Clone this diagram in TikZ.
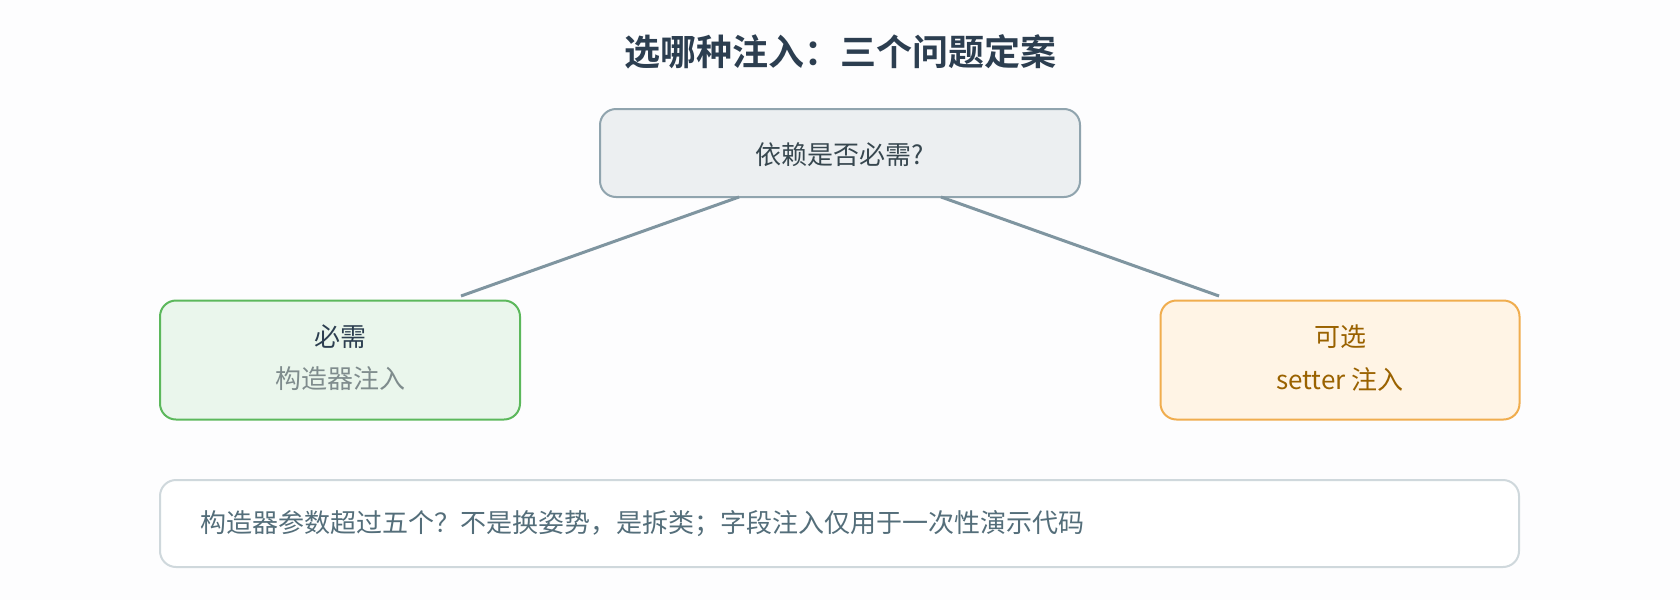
\documentclass[tikz,border=0pt]{standalone}
\usepackage{fontspec}
\setmainfont{Noto Sans CJK SC}
\newfontfamily\cjkbold{Noto Sans CJK SC Bold}
\begin{document}
\begin{tikzpicture}[x=1pt,y=-1pt,
  box/.style={draw, rounded corners=16pt, line width=2pt, inner sep=0pt, anchor=center},
  link/.style={draw=linkc, line width=3pt},
  txt/.style={font=\fontsize{26}{42}\selectfont, inner sep=0pt, align=center}
]
\definecolor{bgc}{HTML}{FDFDFE}
\definecolor{titlec}{HTML}{2C3E50}
\definecolor{qfill}{HTML}{ECEFF1}
\definecolor{qdraw}{HTML}{90A4AE}
\definecolor{qtext}{HTML}{37474F}
\definecolor{gfill}{HTML}{EAF6EC}
\definecolor{gdraw}{HTML}{5CB85C}
\definecolor{gsub}{HTML}{7F8C8D}
\definecolor{ofill}{HTML}{FFF4E5}
\definecolor{odraw}{HTML}{F0AD4E}
\definecolor{otext}{HTML}{9A6200}
\definecolor{ndraw}{HTML}{CFD8DC}
\definecolor{ntext}{HTML}{546E7A}
\definecolor{linkc}{HTML}{7F95A0}
\fill[bgc] (0,0) rectangle (1680,600);
\useasboundingbox (0,0) rectangle (1680,600);

\node[inner sep=0pt, text=titlec, font=\cjkbold\fontsize{36}{40}\selectfont] (title) at (840,52) {选哪种注入：三个问题定案};

\node[box, draw=qdraw, fill=qfill, minimum width=480pt, minimum height=88pt] (q) at (840,153) {};
\node[txt, text=qtext] (qt) at (840,155) {依赖是否必需?};

\node[box, draw=gdraw, fill=gfill, minimum width=360pt, minimum height=119pt] (req) at (340,360) {};
\node[txt, text=titlec] (reqa) at (340,337) {必需};
\node[txt, text=gsub] (reqb) at (340,379) {构造器注入};

\node[box, draw=odraw, fill=ofill, minimum width=359pt, minimum height=119pt] (opt) at (1340,360) {};
\node[txt, text=otext] (opta) at (1340,337) {可选};
\node[txt, text=otext] (optb) at (1340,379) {setter 注入};

\node[box, draw=ndraw, fill=white, minimum width=1359pt, minimum height=87pt] (note) at (839.5,523.5) {};
\node[txt, text=ntext, anchor=west] (notet) at (200,524) {构造器参数超过五个？不是换姿势，是拆类；字段注入仅用于一次性演示代码};

\coordinate (lend) at (461,296);
\coordinate (rend) at (1219,296);
\draw[link] ([xshift=-101pt,yshift=1pt]q.south) -- (lend);
\draw[link] ([xshift=101pt,yshift=1pt]q.south) -- (rend);
\end{tikzpicture}
\end{document}
